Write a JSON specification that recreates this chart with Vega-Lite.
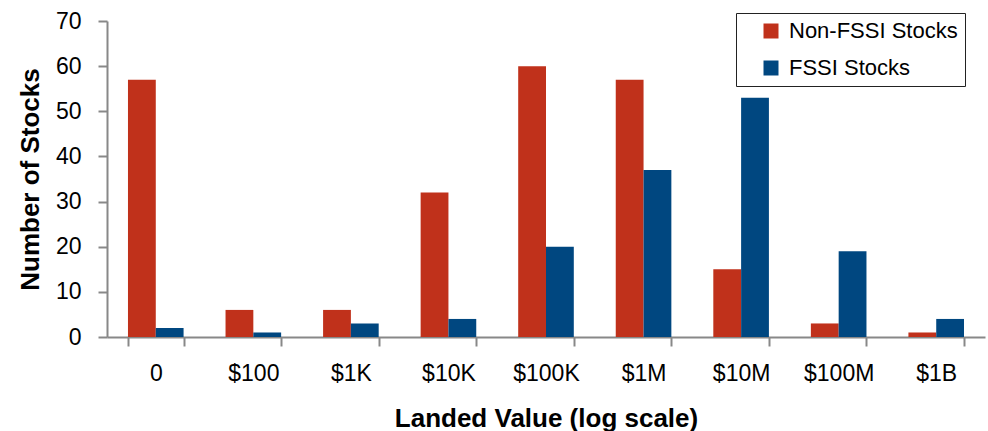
{
  "$schema": "https://vega.github.io/schema/vega-lite/v6.json",
  "width": 878,
  "height": 316,
  "autosize": {"type": "none"},
  "padding": {"left": 107, "top": 21, "right": 3, "bottom": 94},
  "background": "white",
  "data": {
    "values": [
      {"bin": "0", "series": "Non-FSSI Stocks", "count": 57},
      {"bin": "0", "series": "FSSI Stocks", "count": 2},
      {"bin": "$100", "series": "Non-FSSI Stocks", "count": 6},
      {"bin": "$100", "series": "FSSI Stocks", "count": 1},
      {"bin": "$1K", "series": "Non-FSSI Stocks", "count": 6},
      {"bin": "$1K", "series": "FSSI Stocks", "count": 3},
      {"bin": "$10K", "series": "Non-FSSI Stocks", "count": 32},
      {"bin": "$10K", "series": "FSSI Stocks", "count": 4},
      {"bin": "$100K", "series": "Non-FSSI Stocks", "count": 60},
      {"bin": "$100K", "series": "FSSI Stocks", "count": 20},
      {"bin": "$1M", "series": "Non-FSSI Stocks", "count": 57},
      {"bin": "$1M", "series": "FSSI Stocks", "count": 37},
      {"bin": "$10M", "series": "Non-FSSI Stocks", "count": 15},
      {"bin": "$10M", "series": "FSSI Stocks", "count": 53},
      {"bin": "$100M", "series": "Non-FSSI Stocks", "count": 3},
      {"bin": "$100M", "series": "FSSI Stocks", "count": 19},
      {"bin": "$1B", "series": "Non-FSSI Stocks", "count": 1},
      {"bin": "$1B", "series": "FSSI Stocks", "count": 4}
    ]
  },
  "mark": {"type": "bar"},
  "encoding": {
    "x": {
      "field": "bin",
      "type": "nominal",
      "sort": ["0", "$100", "$1K", "$10K", "$100K", "$1M", "$10M", "$100M", "$1B"],
      "scale": {"paddingInner": 0.43, "paddingOuter": 0.215},
      "axis": {
        "title": "Landed Value (log scale)",
        "labelAngle": 0,
        "tickBand": "extent",
        "tickSize": 9,
        "tickColor": "#888888",
        "domainColor": "#888888",
        "domainWidth": 2,
        "tickWidth": 2,
        "labelPadding": 16,
        "labelFontSize": 23,
        "labelFont": "Liberation Sans",
        "labelColor": "#000000",
        "titleFont": "Liberation Sans",
        "titleFontSize": 26,
        "titleFontWeight": "bold",
        "titleColor": "#000000",
        "titleX": 439,
        "titleY": 81,
        "titleBaseline": "middle",
        "titleAlign": "center"
      }
    },
    "xOffset": {"field": "series", "sort": ["Non-FSSI Stocks", "FSSI Stocks"]},
    "y": {
      "field": "count",
      "type": "quantitative",
      "scale": {"domain": [0, 70]},
      "axis": {
        "title": "Number of Stocks",
        "values": [0, 10, 20, 30, 40, 50, 60, 70],
        "grid": false,
        "tickSize": 9,
        "tickColor": "#888888",
        "domainColor": "#888888",
        "domainWidth": 2,
        "tickWidth": 2,
        "labelPadding": 17,
        "labelFontSize": 23,
        "labelFont": "Liberation Sans",
        "labelColor": "#000000",
        "titleFont": "Liberation Sans",
        "titleFontSize": 26,
        "titleFontWeight": "bold",
        "titleColor": "#000000",
        "titleX": -77,
        "titleY": 158,
        "titleAngle": 270,
        "titleBaseline": "middle",
        "titleAlign": "center"
      }
    },
    "color": {
      "field": "series",
      "type": "nominal",
      "sort": ["Non-FSSI Stocks", "FSSI Stocks"],
      "scale": {"domain": ["Non-FSSI Stocks", "FSSI Stocks"], "range": ["#C0311B", "#004780"]},
      "legend": {
        "title": null,
        "orient": "none",
        "legendX": 629,
        "legendY": -8,
        "symbolType": "square",
        "symbolSize": 225,
        "symbolOffset": 17,
        "labelOffset": 7,
        "labelFontSize": 22,
        "labelFont": "Liberation Sans",
        "labelColor": "#000000",
        "labelLimit": 400,
        "labelExpr": "datum.label + '\u00a0\u00a0\u00a0\u00a0'",
        "rowPadding": 15,
        "padding": 7,
        "strokeColor": "#222222",
        "fillColor": "white"
      }
    }
  },
  "config": {"view": {"stroke": null}}
}
